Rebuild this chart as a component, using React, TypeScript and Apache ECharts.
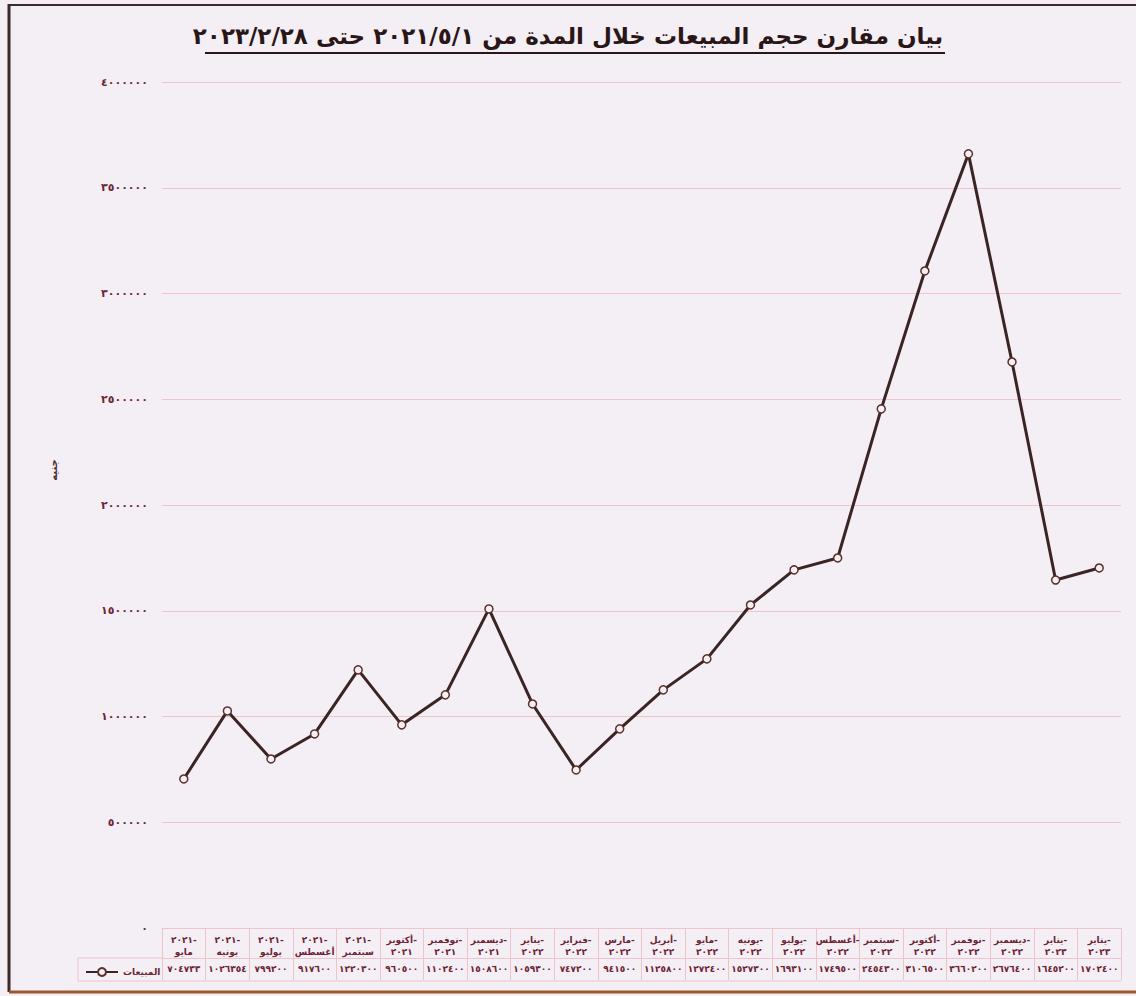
import React, { useEffect, useRef } from "react";
import * as echarts from "echarts";

const months = [
  "٢٠٢١-\nمايو", "٢٠٢١-\nيونيه", "٢٠٢١-\nيوليو", "٢٠٢١-\nأغسطس", "٢٠٢١-\nسبتمبر",
  "أكتوبر-\n٢٠٢١", "نوفمبر-\n٢٠٢١", "ديسمبر-\n٢٠٢١", "يناير-\n٢٠٢٢", "فبراير-\n٢٠٢٢",
  "مارس-\n٢٠٢٢", "أبريل-\n٢٠٢٢", "مايو-\n٢٠٢٢", "يونيه-\n٢٠٢٢", "يوليو-\n٢٠٢٢",
  "أغسطس-\n٢٠٢٢", "سبتمبر-\n٢٠٢٢", "أكتوبر-\n٢٠٢٢", "نوفمبر-\n٢٠٢٢", "ديسمبر-\n٢٠٢٢",
  "يناير-\n٢٠٢٣", "يناير-\n٢٠٢٣",
];

const sales = [
  704733, 1026354, 799200, 917600, 1220300, 960500, 1102400, 1508600, 1059300, 747200,
  941500, 1125800, 1272400, 1527300, 1693100, 1749500, 2454300, 3106500, 3660200, 2676400,
  1645200, 1702400,
];

const yTicks = [0, 500000, 1000000, 1500000, 2000000, 2500000, 3000000, 3500000, 4000000];

const titleText = "بيان مقارن حجم المبيعات خلال المدة من ٢٠٢١/٥/١ حتى ٢٠٢٣/٢/٢٨";
const seriesName = "المبيعات";
const yName = "جنيه";

const AR = "٠١٢٣٤٥٦٧٨٩";
const toArabic = (n: number | string) => String(n).replace(/\d/g, (d) => AR[Number(d)]);

const FONT = "DejaVu Sans";
const PINK = "#efc3cb";
const LABEL = "#6e2434";

export default function App() {
  const ref = useRef<HTMLDivElement>(null);
  useEffect(() => {
    const chart = echarts.init(ref.current!, null, { renderer: "svg" });
    chart.setOption({
      animation: false,
      backgroundColor: "#f3eff5",
      textStyle: { fontFamily: FONT },
      legend: {
        left: 80,
        top: 962,
        itemWidth: 32,
        itemHeight: 10,
        itemGap: 4,
        textStyle: { fontSize: 9, color: LABEL, fontWeight: "bold", fontFamily: FONT },
        data: [seriesName],
      },
      grid: { left: 162, right: 15, top: 82, bottom: 68 },
      xAxis: [
        {
          type: "category",
          data: months,
          boundaryGap: true,
          axisLine: { show: true, lineStyle: { color: PINK, width: 1 } },
          axisTick: { show: true, length: 52, interval: 0, lineStyle: { color: PINK } },
          axisLabel: {
            interval: 0,
            margin: 6,
            fontSize: 9,
            lineHeight: 12,
            fontWeight: "bold",
            color: LABEL,
            fontFamily: FONT,
          },
        },
        {
          type: "category",
          data: months,
          position: "bottom",
          offset: 30,
          boundaryGap: true,
          axisLine: { show: true, lineStyle: { color: PINK, width: 1 } },
          axisTick: { show: false },
          axisLabel: {
            interval: 0,
            margin: 6,
            fontSize: 9,
            fontWeight: "bold",
            color: LABEL,
            fontFamily: FONT,
            formatter: (_v: string, i: number) => toArabic(sales[i]),
          },
        },
      ],
      yAxis: {
        type: "value",
        min: yTicks[0],
        max: yTicks[yTicks.length - 1],
        interval: 500000,
        name: yName,
        nameLocation: "middle",
        nameGap: 104,
        nameRotate: 90,
        nameTextStyle: { fontSize: 10, fontWeight: "bold", color: "#4a2a2a", fontFamily: FONT, padding: [0, 0, 0, 70] },
        axisLine: { show: false },
        axisTick: { show: false },
        splitLine: { show: true, lineStyle: { color: PINK, width: 1 } },
        axisLabel: {
          margin: 14,
          fontSize: 11,
          fontWeight: "bold",
          color: LABEL,
          fontFamily: FONT,
          formatter: (v: number) => toArabic(v),
        },
      },
      series: [
        {
          name: seriesName,
          type: "line",
          data: sales,
          xAxisIndex: 0,
          symbol: "circle",
          symbolSize: 8,
          lineStyle: { color: "#3a2424", width: 3 },
          itemStyle: { color: "#f7f0f2", borderColor: "#5a3030", borderWidth: 1.5 },
        },
      ],
      graphic: [
        {
          type: "text",
          left: "center",
          top: 24,
          style: {
            text: titleText,
            fontSize: 23,
            fontWeight: "bold",
            fontFamily: FONT,
            fill: "#2a1616",
          },
        },
        { type: "line", shape: { x1: 205, y1: 53, x2: 945, y2: 53 }, style: { stroke: "#2a1616", lineWidth: 2 } },
        { type: "line", shape: { x1: 78, y1: 958, x2: 162, y2: 958 }, style: { stroke: PINK, lineWidth: 1 } },
        { type: "line", shape: { x1: 78, y1: 981, x2: 1121, y2: 981 }, style: { stroke: PINK, lineWidth: 1 } },
        { type: "line", shape: { x1: 78, y1: 958, x2: 78, y2: 981 }, style: { stroke: PINK, lineWidth: 1 } },
        { type: "line", shape: { x1: 9, y1: 4, x2: 9, y2: 992 }, style: { stroke: "#3a2a2a", lineWidth: 3 } },
        { type: "line", shape: { x1: 9, y1: 5, x2: 1136, y2: 5 }, style: { stroke: "#3a2a2a", lineWidth: 2 } },
        { type: "line", shape: { x1: 9, y1: 992, x2: 1136, y2: 992 }, style: { stroke: "#9a5a2a", lineWidth: 3 } },
      ],
    });
    return () => chart.dispose();
  }, []);
  return <div ref={ref} style={{ position: "absolute", left: 0, top: 0, width: 1136, height: 996 }} />;
}
